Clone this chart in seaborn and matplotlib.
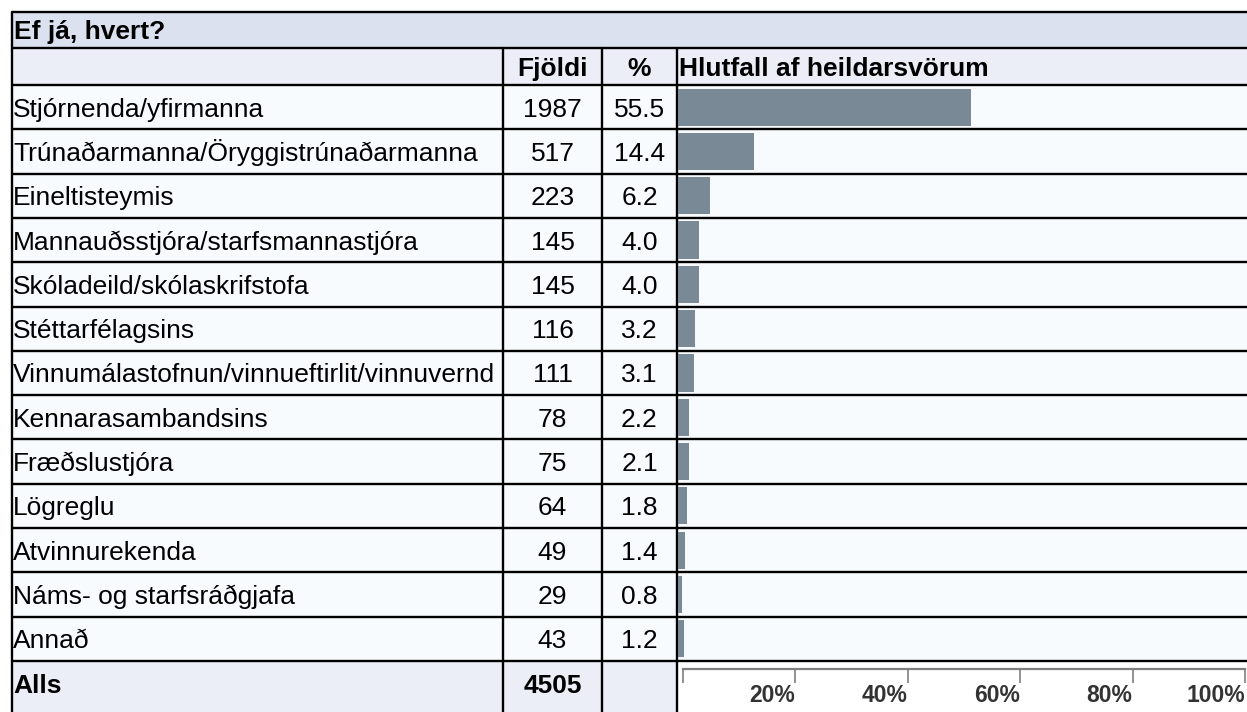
import matplotlib
matplotlib.use('Agg')
import matplotlib.pyplot as plt
import seaborn as sns
import pandas as pd

title = 'Ef já, hvert?'
col_headers = ['Fjöldi', '%', 'Hlutfall af heildarsvörum']
labels = ['Stjórnenda/yfirmanna', 'Trúnaðarmanna/Öryggistrúnaðarmanna', 'Eineltisteymis',
          'Mannauðsstjóra/starfsmannastjóra', 'Skóladeild/skólaskrifstofa', 'Stéttarfélagsins',
          'Vinnumálastofnun/vinnueftirlit/vinnuvernd', 'Kennarasambandsins', 'Fræðslustjóra',
          'Lögreglu', 'Atvinnurekenda', 'Náms- og starfsráðgjafa', 'Annað']
counts = [1987, 517, 223, 145, 145, 116, 111, 78, 75, 64, 49, 29, 43]
pcts = [55.5, 14.4, 6.2, 4.0, 4.0, 3.2, 3.1, 2.2, 2.1, 1.8, 1.4, 0.8, 1.2]
total_label = 'Alls'
total = 4505
ruler_ticks = [0, 20, 40, 60, 80, 100]
ruler_labels = ['', '20%', '40%', '60%', '80%', '100%']

sns.set_theme(style='white')
plt.rcParams['font.family'] = ['Liberation Sans', 'DejaVu Sans']
plt.rcParams['text.color'] = 'black'

W, H = 1247, 712
fig = plt.figure(figsize=(W / 100, H / 100), dpi=100)

# background axes in pixel units (y down)
bg = fig.add_axes([0, 0, 1, 1])
bg.set_xlim(0, W)
bg.set_ylim(H, 0)
bg.axis('off')

left, c1, c2, c3 = 12, 503, 602, 677
top, y_title, y_head = 12, 48, 85
row_h = 44.3
n = len(labels)
y_total = y_head + n * row_h

def rect(x0, y0, x1, y1, color):
    bg.add_patch(plt.Rectangle((x0, y0), x1 - x0, y1 - y0, color=color, lw=0, zorder=0))

rect(left, top, W, y_title, '#dce1ef')
rect(left, y_title, W, y_head, '#eceef7')
rect(left, y_head, W, y_total, '#f7fbfd')
rect(left, y_total, c3, H, '#eceef7')
rect(c3, y_total, W, H, '#ffffff')

lw = 1.7
for y in [top, y_title, y_head] + [y_head + i * row_h for i in range(1, n + 1)]:
    bg.plot([left, W], [y, y], color='black', lw=lw, zorder=3, solid_capstyle='butt')
bg.plot([left, left], [top, H], color='black', lw=lw, zorder=3)
for x in [c1, c2, c3]:
    bg.plot([x, x], [y_title, H], color='black', lw=lw, zorder=3)

fs = 19
off = 9.5
bg.text(14, (top + y_title) / 2 + off, title, fontsize=fs, fontweight='bold', va='baseline')
yh = (y_title + y_head) / 2 + off
bg.text((c1 + c2) / 2, yh, col_headers[0], fontsize=fs, fontweight='bold', ha='center', va='baseline')
bg.text((c2 + c3) / 2, yh, col_headers[1], fontsize=fs, fontweight='bold', ha='center', va='baseline')
bg.text(c3 + 2, yh, col_headers[2], fontsize=fs, fontweight='bold', ha='left', va='baseline')

for i, (lab, c, p) in enumerate(zip(labels, counts, pcts)):
    yb = y_head + (i + 0.5) * row_h + off
    bg.text(13, yb, lab, fontsize=fs, va='baseline')
    bg.text((c1 + c2) / 2, yb, str(c), fontsize=fs, ha='center', va='baseline')
    bg.text((c2 + c3) / 2, yb, f'{p:.1f}', fontsize=fs, ha='center', va='baseline')

yb = (y_total + 707) / 2 + off
bg.text(13, yb, total_label, fontsize=fs, fontweight='bold', va='baseline')
bg.text((c1 + c2) / 2, yb, str(total), fontsize=fs, fontweight='bold', ha='center', va='baseline')

# bars
bar_x0 = 677.7
px_per_pct = 5.28
ax_bar = fig.add_axes([bar_x0 / W, (H - y_total) / H, (W - bar_x0) / W, (y_total - y_head) / H])
df = pd.DataFrame({'label': labels, 'pct': pcts})
sns.barplot(data=df, x='pct', y='label', orient='h', color='#798a96', saturation=1,
            width=0.84, linewidth=0, ax=ax_bar)
ax_bar.set_xlim(0, (W - bar_x0) / px_per_pct)
ax_bar.set_ylim(n - 0.5, -0.5)
ax_bar.axis('off')
ax_bar.patch.set_alpha(0)

# ruler under the bars
r_x0, r_x1 = 682.7, 1245
r_top, r_bot = 669, 683
ax_r = fig.add_axes([r_x0 / W, (H - r_bot) / H, (r_x1 - r_x0) / W, (r_bot - r_top) / H])
ax_r.set_xlim(0, 100)
ax_r.set_ylim(0, 1)
ax_r.patch.set_alpha(0)
for s in ['left', 'right', 'bottom']:
    ax_r.spines[s].set_visible(False)
ax_r.spines['top'].set_color('#7f7f7f')
ax_r.spines['top'].set_linewidth(1.6)
ax_r.set_yticks([])
ax_r.set_xticks(ruler_ticks)
ax_r.set_xticklabels(ruler_labels)
ax_r.tick_params(axis='x', top=True, bottom=False, labeltop=False, labelbottom=True,
                 direction='in', length=10, width=1.2, color='#7f7f7f', pad=1,
                 labelsize=16.5, labelcolor='#333333')
for t in ax_r.get_xticklabels():
    t.set_ha('right')
    t.set_fontweight('bold')

fig.savefig('out.png', dpi=100)
